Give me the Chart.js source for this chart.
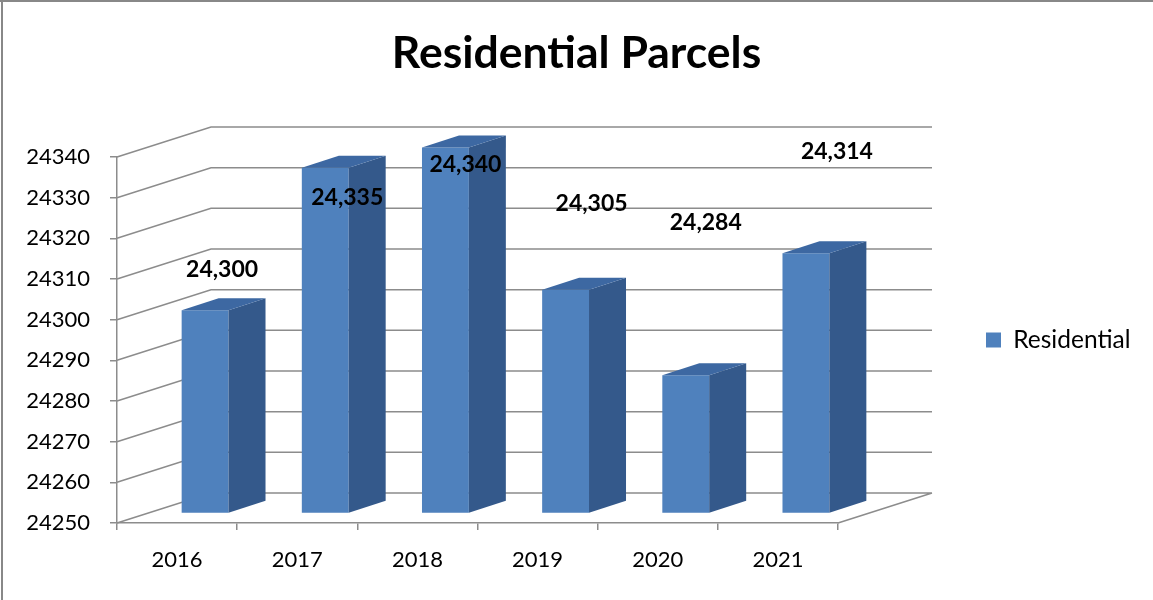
<!DOCTYPE html>
<html>
<head>
<meta charset="utf-8">
<title>Residential Parcels</title>
<script src="https://cdn.jsdelivr.net/npm/chart.js@4.4.0/dist/chart.umd.min.js"></script>
<style>
  html, body { margin: 0; padding: 0; background: #fff; }
</style>
</head>
<body>
<canvas id="parcels" width="1153" height="600"></canvas>
<script>
const years = ['2016', '2017', '2018', '2019', '2020', '2021'];
const residential = [24300, 24335, 24340, 24305, 24284, 24314];
const yMin = 24250;
const yMax = 24340;
const yStep = 10;

// the data labels sit in odd spots in the original, so each one gets a nudge (px from bar top)
const labelNudge = [[45, -50], [50, 20], [48, 8], [54, -96], [48, -162], [59, -111]];

const FONT = 'Lato, "Open Sans", sans-serif';
const GRID = '#8c8c8c';
const FRONT = '#4f81bd';
const SIDE = '#34598b';
const TOP = '#3d68a2';

// fake 3d box: depth of the walls, how far bars sit inside, and bar depth
const WALL = { dx: 94, dy: -30 };
const BAR_SHIFT = { dx: 28, dy: -9.5 };
const BAR_DEPTH = { dx: 37, dy: -12 };

const PLOT_LEFT = 117;
const PLOT_RIGHT = 838;
const PLOT_BOTTOM = 523;

const box3d = {
    id: 'box3d',
    beforeLayout(chart) {
        // no afterFit for the legend, so pin its width here (keeps the plot at 838)
        const lg = chart.legend;
        if (lg && !lg._fixedFit) {
            const fit = lg.fit.bind(lg);
            lg.fit = function () {
                fit();
                this.width = chart.width - PLOT_RIGHT;
            };
            lg._fixedFit = true;
        }
    },
    beforeDatasetsDraw(chart) {
        const { ctx, chartArea: a, scales: { y } } = chart;
        ctx.save();
        ctx.strokeStyle = GRID;
        ctx.lineWidth = 1.5;
        ctx.beginPath();
        y.ticks.forEach(t => {
            const py = y.getPixelForValue(t.value);
            ctx.moveTo(a.left, py);
            ctx.lineTo(a.left + WALL.dx, py + WALL.dy);
            ctx.lineTo(a.right + WALL.dx, py + WALL.dy);
        });
        ctx.moveTo(a.right, a.bottom);
        ctx.lineTo(a.right + WALL.dx, a.bottom + WALL.dy);
        ctx.stroke();
        ctx.restore();

        // bars go a bit into the box
        ctx.save();
        ctx.translate(BAR_SHIFT.dx, BAR_SHIFT.dy);
    },
    afterDatasetsDraw(chart) {
        const { ctx } = chart;
        const bars = chart.getDatasetMeta(0).data;
        bars.forEach(bar => {
            const l = bar.x - bar.width / 2;
            const r = bar.x + bar.width / 2;
            ctx.fillStyle = SIDE;
            ctx.beginPath();
            ctx.moveTo(r, bar.y);
            ctx.lineTo(r + BAR_DEPTH.dx, bar.y + BAR_DEPTH.dy);
            ctx.lineTo(r + BAR_DEPTH.dx, bar.base + BAR_DEPTH.dy);
            ctx.lineTo(r, bar.base);
            ctx.closePath();
            ctx.fill();

            ctx.fillStyle = TOP;
            ctx.beginPath();
            ctx.moveTo(l, bar.y);
            ctx.lineTo(l + BAR_DEPTH.dx, bar.y + BAR_DEPTH.dy);
            ctx.lineTo(r + BAR_DEPTH.dx, bar.y + BAR_DEPTH.dy);
            ctx.lineTo(r, bar.y);
            ctx.closePath();
            ctx.fill();
        });
        ctx.restore();

        ctx.save();
        ctx.fillStyle = '#000';
        ctx.font = `bold 23px ${FONT}`;
        ctx.textAlign = 'center';
        ctx.textBaseline = 'middle';
        bars.forEach((bar, i) => {
            const v = chart.data.datasets[0].data[i];
            ctx.fillText(v.toLocaleString('en-US'), bar.x + labelNudge[i][0], bar.y + labelNudge[i][1]);
        });
        ctx.restore();
    },
    afterDraw(chart) {
        const { ctx } = chart;
        ctx.save();
        ctx.fillStyle = '#888';
        ctx.fillRect(0, 0, chart.width, 2);
        ctx.fillRect(1, 0, 2, chart.height);
        ctx.restore();
    }
};

const chart = new Chart(document.getElementById('parcels'), {
    type: 'bar',
    data: {
        labels: years,
        datasets: [{
            label: 'Residential',
            data: residential,
            base: yMin,
            backgroundColor: FRONT,
            borderWidth: 0,
            barPercentage: 0.39,
            categoryPercentage: 1,
            clip: false
        }]
    },
    options: {
        responsive: false,
        animation: false,
        devicePixelRatio: 1,
        layout: { padding: 0 },
        plugins: {
            title: {
                display: true,
                text: 'Residential Parcels',
                color: '#000',
                font: { family: FONT, size: 44.5, weight: 'bold' },
                padding: { top: 27, bottom: 76.6 }
            },
            legend: {
                position: 'right',
                fullSize: false,
                maxWidth: 400,
                labels: {
                    color: '#000',
                    font: { family: FONT, size: 24.5 },
                    boxWidth: 15,
                    boxHeight: 15,
                    padding: 148
                }
            },
            tooltip: { enabled: false }
        },
        scales: {
            x: {
                grid: { drawOnChartArea: false, color: GRID, tickLength: 7, lineWidth: 1.5 },
                border: { color: GRID, width: 1.5 },
                ticks: { color: '#000', font: { family: FONT, size: 22 }, padding: 17, maxRotation: 0 },
                afterFit(s) { s.height = 600 - PLOT_BOTTOM; }
            },
            y: {
                min: yMin,
                max: yMax,
                grid: { drawOnChartArea: false, color: GRID, tickLength: 7, lineWidth: 1.5 },
                border: { color: GRID, width: 1.5 },
                ticks: {
                    stepSize: yStep,
                    color: '#000',
                    font: { family: FONT, size: 22 },
                    padding: 20,
                    callback: v => String(v)
                },
                afterFit(s) { s.width = PLOT_LEFT; }
            }
        }
    },
    plugins: [box3d]
});
</script>
</body>
</html>
